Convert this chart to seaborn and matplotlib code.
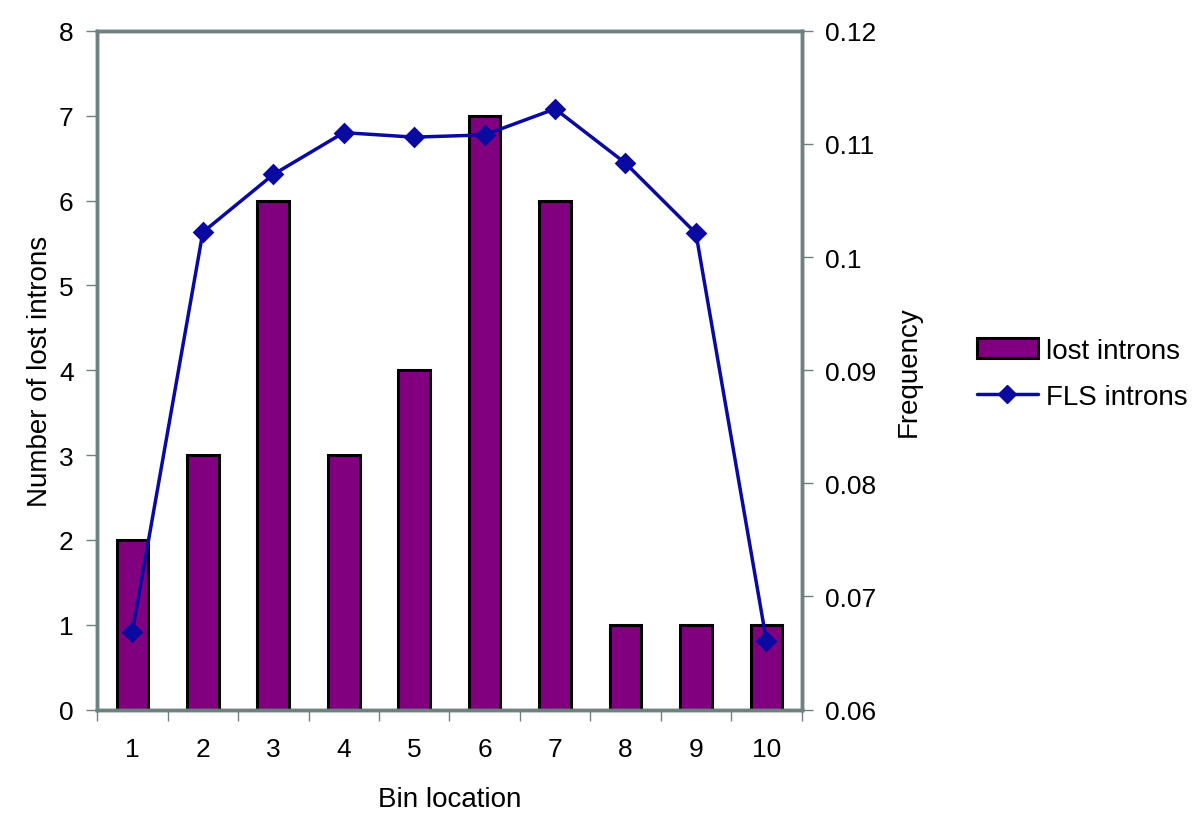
import matplotlib
matplotlib.use("Agg")
import matplotlib.pyplot as plt
import seaborn as sns
import pandas as pd
import numpy as np
from matplotlib.patches import Patch
from matplotlib.lines import Line2D

# data
bins = ["1", "2", "3", "4", "5", "6", "7", "8", "9", "10"]
lost_introns = [2, 3, 6, 3, 4, 7, 6, 1, 1, 1]
fls_freq = [0.0669, 0.1022, 0.1073, 0.1110, 0.1106, 0.1108, 0.1131, 0.1083, 0.1021, 0.0661]

df = pd.DataFrame({"Bin": bins, "lost": lost_introns, "freq": fls_freq})

sns.set_style("white")
plt.rcParams["font.family"] = ["Liberation Sans", "DejaVu Sans"]
plt.rcParams["text.color"] = "black"
plt.rcParams["axes.labelcolor"] = "black"
plt.rcParams["xtick.color"] = "black"
plt.rcParams["ytick.color"] = "black"

frame_col = "#6f8080"
bar_col = "#800080"
line_col = "#0a0aa0"

fig = plt.figure(figsize=(12, 8.37), dpi=100)
ax = fig.add_axes([0.081, 0.151, 0.587, 0.811])

sns.barplot(data=df, x="Bin", y="lost", color=bar_col, width=0.45,
            edgecolor="black", linewidth=2.2, saturation=1, ax=ax)
ax.set_ylim(0, 8)
ax.set_xlim(-0.5, 9.5)

ax2 = ax.twinx()
sns.pointplot(data=df, x="Bin", y="freq", color=line_col, markers="D",
              markersize=9, linewidth=2.5, ax=ax2)
ax2.set_ylim(0.06, 0.12)
ax2.set_yticks([0.06, 0.07, 0.08, 0.09, 0.10, 0.11, 0.12])
ax2.set_yticklabels(["0.06", "0.07", "0.08", "0.09", "0.1", "0.11", "0.12"])
ax2.set_xlim(-0.5, 9.5)

for a in (ax, ax2):
    for s in a.spines.values():
        s.set_color(frame_col)
        s.set_linewidth(2.5)

ax.set_yticks(range(0, 9))
ax.tick_params(axis="y", which="major", left=True, length=8, width=1,
               color=frame_col, labelcolor="black", labelsize=19, pad=9)
ax2.tick_params(axis="y", which="major", right=True, length=8, width=1,
                color=frame_col, labelcolor="black", labelsize=19, pad=9)

# x: labels at centers, tick marks between the bins
ax.set_xticks(range(len(bins)))
ax.set_xticklabels(bins)
ax.set_xticks(np.arange(-0.5, len(bins), 1.0), minor=True)
ax.tick_params(axis="x", which="major", length=0, labelsize=19,
               labelcolor="black", pad=20)
ax.tick_params(axis="x", which="minor", bottom=True, length=8, width=1, color=frame_col)

ax.set_xlabel("Bin location", fontsize=20, labelpad=18)
ax.set_ylabel("Number of lost introns", fontsize=20, labelpad=4)
ax2.set_ylabel("Frequency", fontsize=20, labelpad=14)

handles = [
    Patch(facecolor=bar_col, edgecolor="black", linewidth=2.2, label="lost introns"),
    Line2D([0], [0], color=line_col, linewidth=2.5, marker="D", markersize=9,
           label="FLS introns"),
]
fig.legend(handles=handles, loc="center left", bbox_to_anchor=(0.800, 0.552),
           frameon=False, fontsize=20, handlelength=2.2, handleheight=0.75,
           labelspacing=0.75, handletextpad=0.3, borderaxespad=0.2)

fig.savefig("out.png", dpi=100)
